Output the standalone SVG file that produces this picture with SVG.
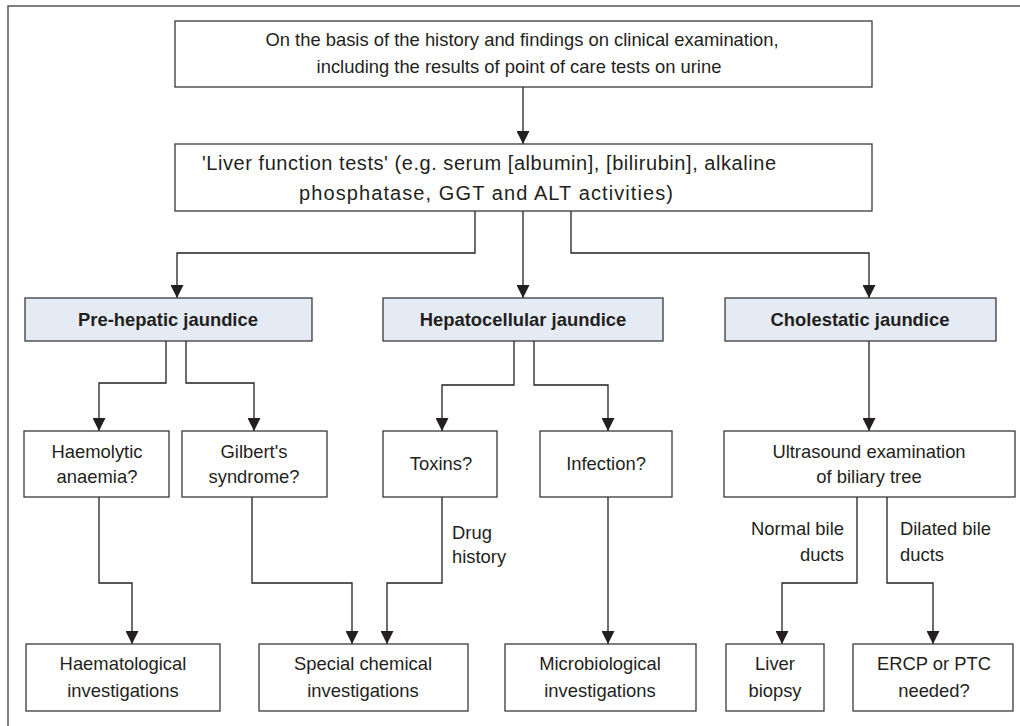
<svg xmlns="http://www.w3.org/2000/svg" width="1020" height="726" viewBox="0 0 1020 726">
<defs>
<style>
.box{fill:#fff;stroke:#3a3a3a;stroke-width:1.3}
.hd{fill:#e5ebf5;stroke:#3a3a3a;stroke-width:1.3}
.t{font-family:"Liberation Sans",Arial,sans-serif;font-size:18.4px;fill:#231f20;text-anchor:middle}
.b{font-weight:bold}
.l{text-anchor:start}
.r{text-anchor:end}
.lg{font-size:20px}
.c{fill:none;stroke:#231f20;stroke-width:1.3}
</style>
<marker id="ah" viewBox="0 0 13 13" refX="13" refY="6.5" markerWidth="13" markerHeight="13" markerUnits="userSpaceOnUse" orient="auto">
<path d="M0,0 L13,6.5 L0,13 z" fill="#231f20"/>
</marker>
</defs>
<rect width="1020" height="726" fill="#fff"/>
<rect x="8" y="6" width="1030" height="740" fill="none" stroke="#555" stroke-width="1.5"/>

<g id="connectors">
<path class="c" d="M523,87 V144" marker-end="url(#ah)"/>
<path class="c" d="M475,211 V253 H177 V298" marker-end="url(#ah)"/>
<path class="c" d="M523,211 V298" marker-end="url(#ah)"/>
<path class="c" d="M571,211 V253 H869 V298" marker-end="url(#ah)"/>
<path class="c" d="M166,341 V383 H99 V431" marker-end="url(#ah)"/>
<path class="c" d="M186,341 V383 H254 V431" marker-end="url(#ah)"/>
<path class="c" d="M514,341 V385 H442 V431" marker-end="url(#ah)"/>
<path class="c" d="M534,341 V385 H608 V431" marker-end="url(#ah)"/>
<path class="c" d="M869,341 V431" marker-end="url(#ah)"/>
<path class="c" d="M99,497 V583 H132 V644" marker-end="url(#ah)"/>
<path class="c" d="M252,497 V583 H352 V644" marker-end="url(#ah)"/>
<path class="c" d="M442,497 V583 H387 V644" marker-end="url(#ah)"/>
<path class="c" d="M608,497 V644" marker-end="url(#ah)"/>
<path class="c" d="M857,497 V583 H782 V644" marker-end="url(#ah)"/>
<path class="c" d="M887,497 V583 H933 V644" marker-end="url(#ah)"/>
<text class="t l" x="452" y="539">Drug</text>
<text class="t l" x="452" y="563">history</text>
<text class="t r" x="844" y="535">Normal bile</text>
<text class="t r" x="844" y="561">ducts</text>
<text class="t l" x="900" y="535">Dilated bile</text>
<text class="t l" x="900" y="561">ducts</text>
</g>

<g id="n-start">
<rect class="box" x="175" y="21" width="697" height="66"/>
<text class="t" x="522" y="46">On the basis of the history and findings on clinical examination,</text>
<text class="t" x="519" y="73">including the results of point of care tests on urine</text>
</g>
<g id="n-lft">
<rect class="box" x="175" y="144" width="697" height="67"/>
<text class="t lg" x="489" y="170" textLength="574" lengthAdjust="spacing">'Liver function tests' (e.g. serum [albumin], [bilirubin], alkaline</text>
<text class="t lg" x="486" y="200" textLength="374" lengthAdjust="spacing">phosphatase, GGT and ALT activities)</text>
</g>
<g id="n-pre">
<rect class="hd" x="25" y="298" width="287" height="43"/>
<text class="t b" x="168" y="326">Pre-hepatic jaundice</text>
</g>
<g id="n-hep">
<rect class="hd" x="383" y="298" width="280" height="43"/>
<text class="t b" x="523" y="326">Hepatocellular jaundice</text>
</g>
<g id="n-chol">
<rect class="hd" x="725" y="298" width="271" height="43"/>
<text class="t b" x="860" y="326">Cholestatic jaundice</text>
</g>
<g id="n-haem">
<rect class="box" x="24" y="431" width="145" height="66"/>
<text class="t" x="97" y="458">Haemolytic</text>
<text class="t" x="97" y="483">anaemia?</text>
</g>
<g id="n-gil">
<rect class="box" x="182" y="431" width="145" height="66"/>
<text class="t" x="254" y="458">Gilbert's</text>
<text class="t" x="254" y="483">syndrome?</text>
</g>
<g id="n-tox">
<rect class="box" x="383" y="431" width="114" height="66"/>
<text class="t" x="441" y="470">Toxins?</text>
</g>
<g id="n-inf">
<rect class="box" x="540" y="431" width="132" height="66"/>
<text class="t" x="606" y="470">Infection?</text>
</g>
<g id="n-us">
<rect class="box" x="724" y="431" width="291" height="66"/>
<text class="t" x="869" y="458">Ultrasound examination</text>
<text class="t" x="869" y="483">of biliary tree</text>
</g>
<g id="n-haemat">
<rect class="box" x="26" y="644" width="194" height="67"/>
<text class="t" x="123" y="670">Haematological</text>
<text class="t" x="123" y="697">investigations</text>
</g>
<g id="n-spec">
<rect class="box" x="259" y="644" width="209" height="67"/>
<text class="t" x="363" y="670">Special chemical</text>
<text class="t" x="363" y="697">investigations</text>
</g>
<g id="n-micro">
<rect class="box" x="505" y="644" width="191" height="67"/>
<text class="t" x="600" y="670">Microbiological</text>
<text class="t" x="600" y="697">investigations</text>
</g>
<g id="n-biopsy">
<rect class="box" x="726" y="644" width="98" height="67"/>
<text class="t" x="775" y="670">Liver</text>
<text class="t" x="775" y="697">biopsy</text>
</g>
<g id="n-ercp">
<rect class="box" x="853" y="644" width="160" height="67"/>
<text class="t" x="934" y="670">ERCP or PTC</text>
<text class="t" x="934" y="697">needed?</text>
</g>
</svg>
